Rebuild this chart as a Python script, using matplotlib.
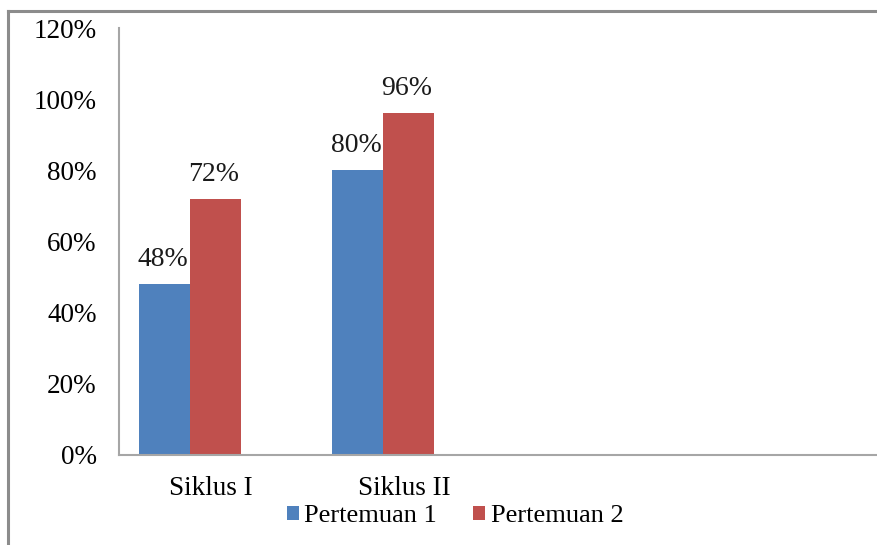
import matplotlib
matplotlib.use("Agg")
import matplotlib.pyplot as plt
from matplotlib.lines import Line2D
import matplotlib.transforms as mtransforms
import numpy as np

categories = ["Siklus I", "Siklus II"]
series_names = ["Pertemuan 1", "Pertemuan 2"]
pertemuan1 = [48, 80]
pertemuan2 = [72, 96]
yticks = [0, 20, 40, 60, 80, 100, 120]
colors = ["#4F81BD", "#C0504D"]

plt.rcParams['font.family'] = ['Liberation Serif', 'DejaVu Serif']

fig = plt.figure(figsize=(8.77, 5.45), dpi=100)
ax = fig.add_axes([119/877, 1-455/545, 1-119/877, (455-28)/545])

x = np.arange(len(categories))
w = 0.264
b1 = ax.bar(x - w/2, pertemuan1, w, color=colors[0], label=series_names[0])
b2 = ax.bar(x + w/2, pertemuan2, w, color=colors[1], label=series_names[1])

for bars, vals in ((b1, pertemuan1), (b2, pertemuan2)):
    for r, v in zip(bars, vals):
        ax.annotate(f"{v}%", (r.get_x() + r.get_width()/2, v),
                    xytext=(-1, 13), textcoords="offset points",
                    ha="center", va="baseline", fontsize=20, color="#1a1a1a")

ax.set_xlim(-0.368, 3.56)
ax.set_ylim(0, 120)
ax.set_yticks(yticks)
ax.set_yticklabels([f"{t}%" for t in yticks], fontsize=19.5)
ax.set_xticks(x)
ax.set_xticklabels(categories, fontsize=19.5)
ax.tick_params(axis='y', length=0, pad=16)
ax.tick_params(axis='x', length=0, pad=15)
shift = mtransforms.ScaledTranslation(21/100, 0, fig.dpi_scale_trans)
for lbl in ax.get_xticklabels():
    lbl.set_transform(lbl.get_transform() + shift)
for s in ("top", "right"):
    ax.spines[s].set_visible(False)
for s in ("left", "bottom"):
    ax.spines[s].set_color("#A6A6A6")
    ax.spines[s].set_linewidth(1.5)

fig.legend(handles=[b1, b2], labels=series_names, loc="center",
           bbox_to_anchor=(455/877, 1-516/545), ncol=2, frameon=False,
           fontsize=19, handlelength=0.45, handleheight=0.45, handletextpad=0.2,
           columnspacing=1.4, borderpad=0)

# outer frame (left and top)
fig.add_artist(Line2D([8/877, 8/877], [0, 1-11/545], transform=fig.transFigure,
                      color="#8C8C8C", linewidth=2.2))
fig.add_artist(Line2D([8/877, 1], [1-11/545, 1-11/545], transform=fig.transFigure,
                      color="#8C8C8C", linewidth=2.2))

fig.savefig("out.png", dpi=100)
